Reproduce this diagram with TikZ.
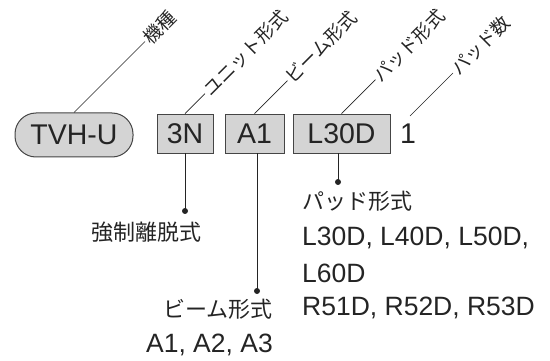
\documentclass[tikz,border=0pt]{standalone}
\usepackage{fontspec}
\setmainfont{Liberation Sans}
\newfontfamily\jfont{Noto Sans CJK JP}
\usepackage{tikz}

\definecolor{boxgray}{gray}{0.83}
\definecolor{inkgray}{gray}{0.14}

\begin{document}
\begin{tikzpicture}[x=1pt,y=-1pt,
	lat/.style={font=\fontsize{26.5}{30}\selectfont,text=inkgray},
	jp/.style={font=\jfont\fontsize{22}{26}\selectfont,text=inkgray},
	codebox/.style={font=\fontsize{28.5}{32}\selectfont,text=inkgray,draw=inkgray!85,fill=boxgray,line width=0.8pt,minimum height=39,inner sep=0pt},
	pill/.style={codebox,rounded corners=21,minimum width=118,minimum height=44,line width=1pt},
	lead/.style={draw=inkgray,line width=0.6pt},
	tag/.style={font=\jfont\fontsize{18.5}{22}\selectfont,text=inkgray,anchor=west,rotate=45,inner sep=1.5pt},
	stem/.style={draw=inkgray,line width=0.8pt}]
			\useasboundingbox (0,0) rectangle (550,361);
			
			% code row
			\node[pill] (model) at (74,135) {TVH-U};
			\node[codebox,minimum width=56] (unit) at (185,133.5) {3N};
			\node[codebox,minimum width=59] (beam) at (254.5,133.5) {A1};
			\node[codebox,minimum width=97] (pad) at (341.5,133.5) {L30D};
			\node[codebox,draw=none,fill=none] (num) at (408,133.5) {1};
			\coordinate (numtop) at (410,116);
			
			% slanted leaders with names
			\foreach \nm/\src/\len/\txt in {
				model/model.north/71/機種,
				unit/unit.north/20/ユニット形式,
				beam/beam.north/33/ビーム形式,
				pad/pad.north/34/パッド形式,
				num/numtop/43/パッド数}
			{\draw[lead] (\src)--++(\len,-\len) coordinate (\nm-end);
			\node[tag] (\nm-tag) at (\nm-end) {\txt};}
			
			% dots below
			\coordinate (unitdot) at (185,211);
			\coordinate (beamdot) at (257,291);
			\coordinate (paddot) at (338,182);
			\draw[stem] (unit.south)--(unitdot);
			\draw[stem] (beam.south -| beamdot)--(beamdot);
			\draw[stem] (pad.south -| paddot)--(paddot);
			\foreach \d in {unitdot,beamdot,paddot}
			\fill[inkgray] (\d) circle (3pt);
			
			% explanations
			\node[jp,inner sep=0pt] (unitnote) at (147,232) {強制離脱式};
			\node[jp,inner sep=0pt,anchor=east] (beamnote) at (273,309) {ビーム形式};
			\node[lat,inner sep=0pt,anchor=east] (beamlist) at (273,345) {A1, A2, A3};
			\node[jp,inner sep=0pt,anchor=west] (padnote) at (302,201) {パッド形式};
			\node[lat,inner sep=0pt,anchor=west] (padlist1) at (302,238) {L30D, L40D, L50D,};
			\node[lat,inner sep=0pt,anchor=west] (padlist2) at (302,273) {L60D};
			\node[lat,inner sep=0pt,anchor=west] (padlist3) at (302,308) {R51D, R52D, R53D};
\end{tikzpicture}
\end{document}
